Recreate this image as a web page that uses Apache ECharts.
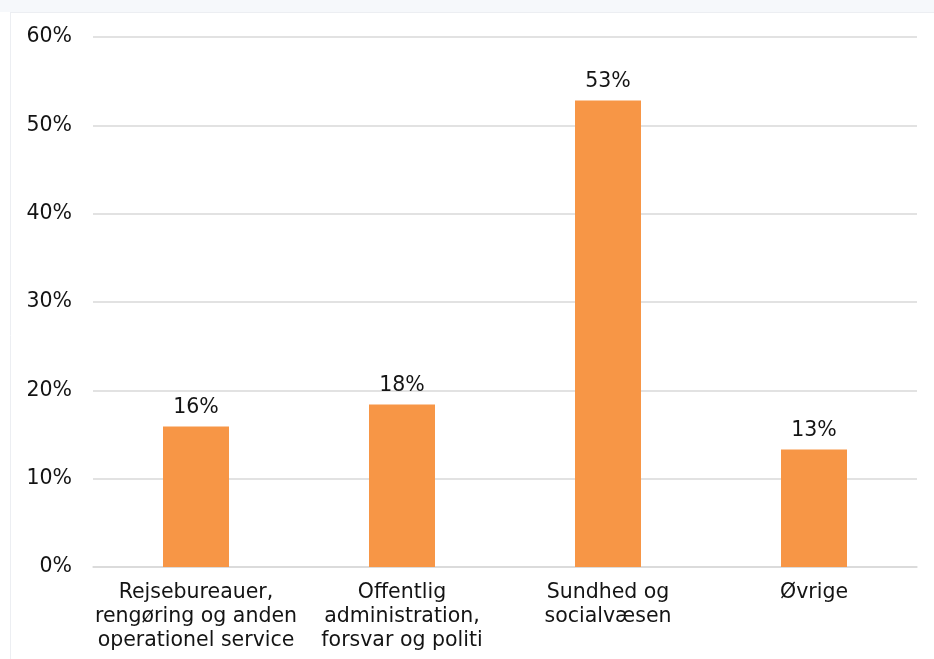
<!DOCTYPE html>
<html>
<head>
<meta charset="utf-8">
<script src="https://cdn.jsdelivr.net/npm/echarts@6/dist/echarts.min.js"></script>
<style>
html,body{margin:0;padding:0;background:#fff;}
#chart{width:934px;height:659px;}
</style>
</head>
<body>
<div id="chart"></div>
<script>
const categories = [
  "Rejsebureauer,\nrengøring og anden\noperationel service",
  "Offentlig\nadministration,\nforsvar og politi",
  "Sundhed og\nsocialvæsen",
  "Øvrige"
];
const values = [15.9, 18.4, 52.8, 13.3];
const yTicks = [0, 10, 20, 30, 40, 50, 60];

const FONT = "DejaVu Sans";
const TXT = '#141414';
const chart = echarts.init(document.getElementById('chart'), null, {renderer: 'canvas'});
chart.setOption({
  animation: false,
  backgroundColor: '#ffffff',
  textStyle: {fontFamily: FONT},
  graphic: [
    {type: 'rect', shape: {x: 0, y: 0, width: 934, height: 12}, style: {fill: '#f6f8fb'}, silent: true, z: -10},
    {type: 'line', shape: {x1: 10, y1: 12.5, x2: 934, y2: 12.5}, style: {stroke: '#eceef2', lineWidth: 1}, silent: true, z: -10},
    {type: 'line', shape: {x1: 10.5, y1: 12, x2: 10.5, y2: 659}, style: {stroke: '#eceef2', lineWidth: 1}, silent: true, z: -10}
  ],
  grid: {left: 93, right: 17, top: 37, bottom: 92, containLabel: false},
  xAxis: {
    type: 'category',
    data: categories,
    axisTick: {show: false},
    axisLine: {show: true, lineStyle: {color: '#d9d9d9', width: 1.5}},
    axisLabel: {
      interval: 0,
      margin: 14,
      color: TXT,
      fontFamily: FONT,
      fontSize: 20.5,
      lineHeight: 24,
      align: 'center'
    }
  },
  yAxis: {
    type: 'value',
    min: yTicks[0],
    max: yTicks[yTicks.length - 1],
    interval: 10,
    axisLine: {show: false},
    axisTick: {show: false},
    splitLine: {show: true, lineStyle: {color: '#d9d9d9', width: 1.5}},
    axisLabel: {
      margin: 21,
      color: TXT,
      fontFamily: FONT,
      fontSize: 20.5,
      padding: [6, 0, 0, 0],
      formatter: v => v + '%'
    }
  },
  series: [{
    type: 'bar',
    data: values,
    barWidth: 66,
    itemStyle: {color: '#F79646'},
    label: {
      show: true,
      position: 'top',
      distance: 8,
      color: TXT,
      fontFamily: FONT,
      fontSize: 20.5,
      formatter: p => Math.round(p.value) + '%'
    }
  }]
});
</script>
</body>
</html>
